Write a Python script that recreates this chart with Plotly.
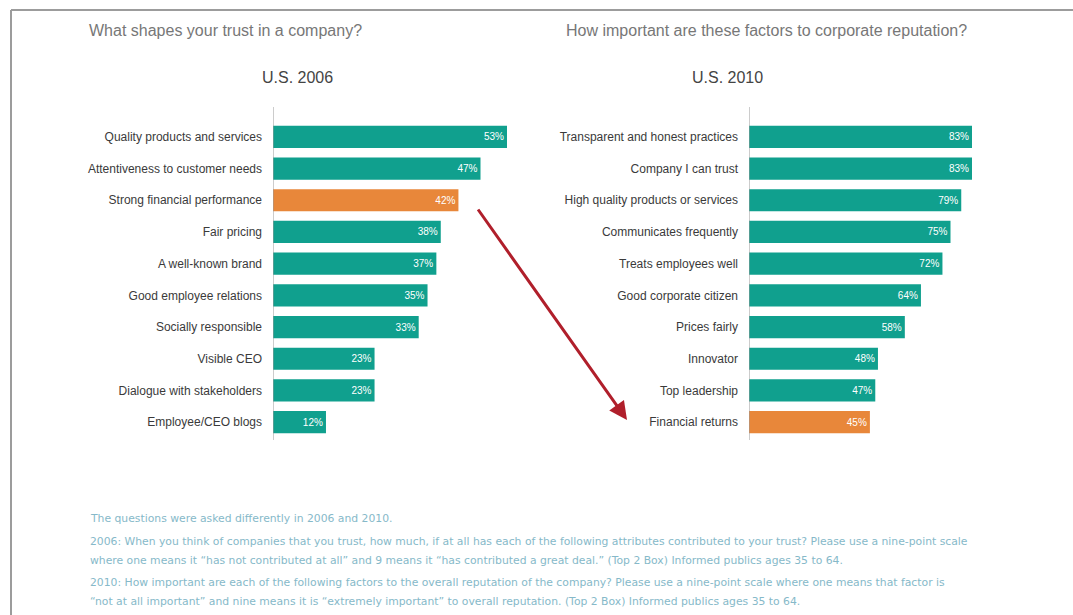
import plotly.graph_objects as go

# ---- data ----
cats_2006 = ["Quality products and services", "Attentiveness to customer needs",
             "Strong financial performance", "Fair pricing", "A well-known brand",
             "Good employee relations", "Socially responsible", "Visible CEO",
             "Dialogue with stakeholders", "Employee/CEO blogs"]
vals_2006 = [53, 47, 42, 38, 37, 35, 33, 23, 23, 12]

cats_2010 = ["Transparent and honest practices", "Company I can trust",
             "High quality products or services", "Communicates frequently",
             "Treats employees well", "Good corporate citizen", "Prices fairly",
             "Innovator", "Top leadership", "Financial returns"]
vals_2010 = [83, 83, 79, 75, 72, 64, 58, 48, 47, 45]

highlight_2006 = "Strong financial performance"
highlight_2010 = "Financial returns"

title_left = "What shapes your trust in a company?"
title_right = "How important are these factors to corporate reputation?"
sub_left = "U.S. 2006"
sub_right = "U.S. 2010"

notes = [
    "The questions were asked differently in 2006 and 2010.",
    "2006: When you think of companies that you trust, how much, if at all has each of the following attributes contributed to your trust? Please use a nine-point scale",
    "where one means it \u201chas not contributed at all\u201d and 9 means it \u201chas contributed a great deal.\u201d (Top 2 Box) Informed publics ages 35 to 64.",
    "2010: How important are each of the following factors to the overall reputation of the company? Please use a nine-point scale where one means that factor is",
    "\u201cnot at all important\u201d and nine means it is \u201cextremely important\u201d to overall reputation. (Top 2 Box) Informed publics ages 35 to 64.",
]

# ---- style ----
W, H = 1073, 615
TEAL = "#10a08e"
ORANGE = "#e8873a"
LABEL_FONT = "Liberation Sans Narrow, Arial Narrow, Liberation Sans, sans-serif"
TITLE_FONT = "Liberation Sans, Arial, sans-serif"
NOTE_FONT = "DejaVu Sans, sans-serif"

def px(x):
    return x / W

def py(y):
    return 1 - y / H

fig = go.Figure()

fig.add_trace(go.Bar(
    y=cats_2006, x=vals_2006, orientation="h",
    marker=dict(color=[ORANGE if c == highlight_2006 else TEAL for c in cats_2006], line=dict(width=0)),
    text=[f"{v}%" for v in vals_2006], textposition="inside", insidetextanchor="end",
    textfont=dict(color="white", size=10, family=LABEL_FONT),
    width=0.7, xaxis="x", yaxis="y", hoverinfo="skip", cliponaxis=False,
))
fig.add_trace(go.Bar(
    y=cats_2010, x=vals_2010, orientation="h",
    marker=dict(color=[ORANGE if c == highlight_2010 else TEAL for c in cats_2010], line=dict(width=0)),
    text=[f"{v}%" for v in vals_2010], textposition="inside", insidetextanchor="end",
    textfont=dict(color="white", size=10, family=LABEL_FONT),
    width=0.7, xaxis="x2", yaxis="y2", hoverinfo="skip", cliponaxis=False,
))

ydom = [py(438), py(121)]
left_base, left_end = 273, 540
right_base, right_end = 749, 1000
left_scale = (507 - 273) / 53.0
right_scale = (972 - 749) / 83.0

axis_common = dict(showgrid=False, zeroline=False, showticklabels=False, ticks="", showline=False, fixedrange=True)

fig.update_layout(
    width=W, height=H, autosize=False,
    margin=dict(l=0, r=0, t=0, b=0),
    paper_bgcolor="white", plot_bgcolor="rgba(0,0,0,0)",
    showlegend=False, bargap=0.3,
    xaxis=dict(domain=[px(left_base), px(left_end)], range=[0, (left_end - left_base) / left_scale], anchor="y", **axis_common),
    yaxis=dict(domain=ydom, type="category", categoryorder="array", categoryarray=cats_2006,
               autorange="reversed", anchor="x", showgrid=False, zeroline=False, ticks="",
               showline=False, ticklabelstandoff=10,
               tickfont=dict(family=LABEL_FONT, size=12, color="#3a3a3a")),
    xaxis2=dict(domain=[px(right_base), px(right_end)], range=[0, (right_end - right_base) / right_scale], anchor="y2", **axis_common),
    yaxis2=dict(domain=ydom, type="category", categoryorder="array", categoryarray=cats_2010,
                autorange="reversed", anchor="x2", showgrid=False, zeroline=False, ticks="",
                showline=False, ticklabelstandoff=10,
                tickfont=dict(family=LABEL_FONT, size=12, color="#3a3a3a")),
)

# baseline axis lines
for xref in ("x", "x2"):
    fig.add_shape(type="line", xref=xref, yref="paper", x0=0, x1=0,
                  y0=py(107), y1=py(440), line=dict(color="#9a9a9a", width=1))

# frame
fig.add_shape(type="line", xref="paper", yref="paper", x0=px(11), x1=1, y0=py(10), y1=py(10),
              line=dict(color="#9c9c9c", width=2))
fig.add_shape(type="line", xref="paper", yref="paper", x0=px(11), x1=px(11), y0=py(10), y1=0,
              line=dict(color="#9c9c9c", width=2))

# titles
fig.add_annotation(text=title_left, xref="paper", yref="paper", x=px(87), y=py(30),
                   xanchor="left", yanchor="middle", showarrow=False,
                   font=dict(family=TITLE_FONT, size=16, color="#777777"))
fig.add_annotation(text=title_right, xref="paper", yref="paper", x=px(564), y=py(30),
                   xanchor="left", yanchor="middle", showarrow=False,
                   font=dict(family=TITLE_FONT, size=16, color="#777777"))
fig.add_annotation(text=sub_left, xref="paper", yref="paper", x=px(297), y=py(77),
                   xanchor="center", yanchor="middle", showarrow=False,
                   font=dict(family=LABEL_FONT, size=16, color="#444444"))
fig.add_annotation(text=sub_right, xref="paper", yref="paper", x=px(727), y=py(77),
                   xanchor="center", yanchor="middle", showarrow=False,
                   font=dict(family=LABEL_FONT, size=16, color="#444444"))

# arrow (tail given as pixel offsets from the head)
fig.add_annotation(xref="paper", yref="paper", x=px(627), y=py(420),
                   ax=477 - 627, ay=208 - 420, axref="pixel", ayref="pixel",
                   text="", showarrow=True, arrowhead=2, arrowsize=1.2, arrowwidth=3,
                   arrowcolor="#b01f2b")

# footnotes
note_y = [518, 541, 560, 582, 601]
for t, yy in zip(notes, note_y):
    fig.add_annotation(text=t, xref="paper", yref="paper", x=px(88), y=py(yy),
                       xanchor="left", yanchor="middle", showarrow=False,
                       font=dict(family=NOTE_FONT, size=10.8, color="#86b9c9"))

fig.write_html("out.html", config={"displayModeBar": False},
               post_script="document.body.style.margin='0';")
